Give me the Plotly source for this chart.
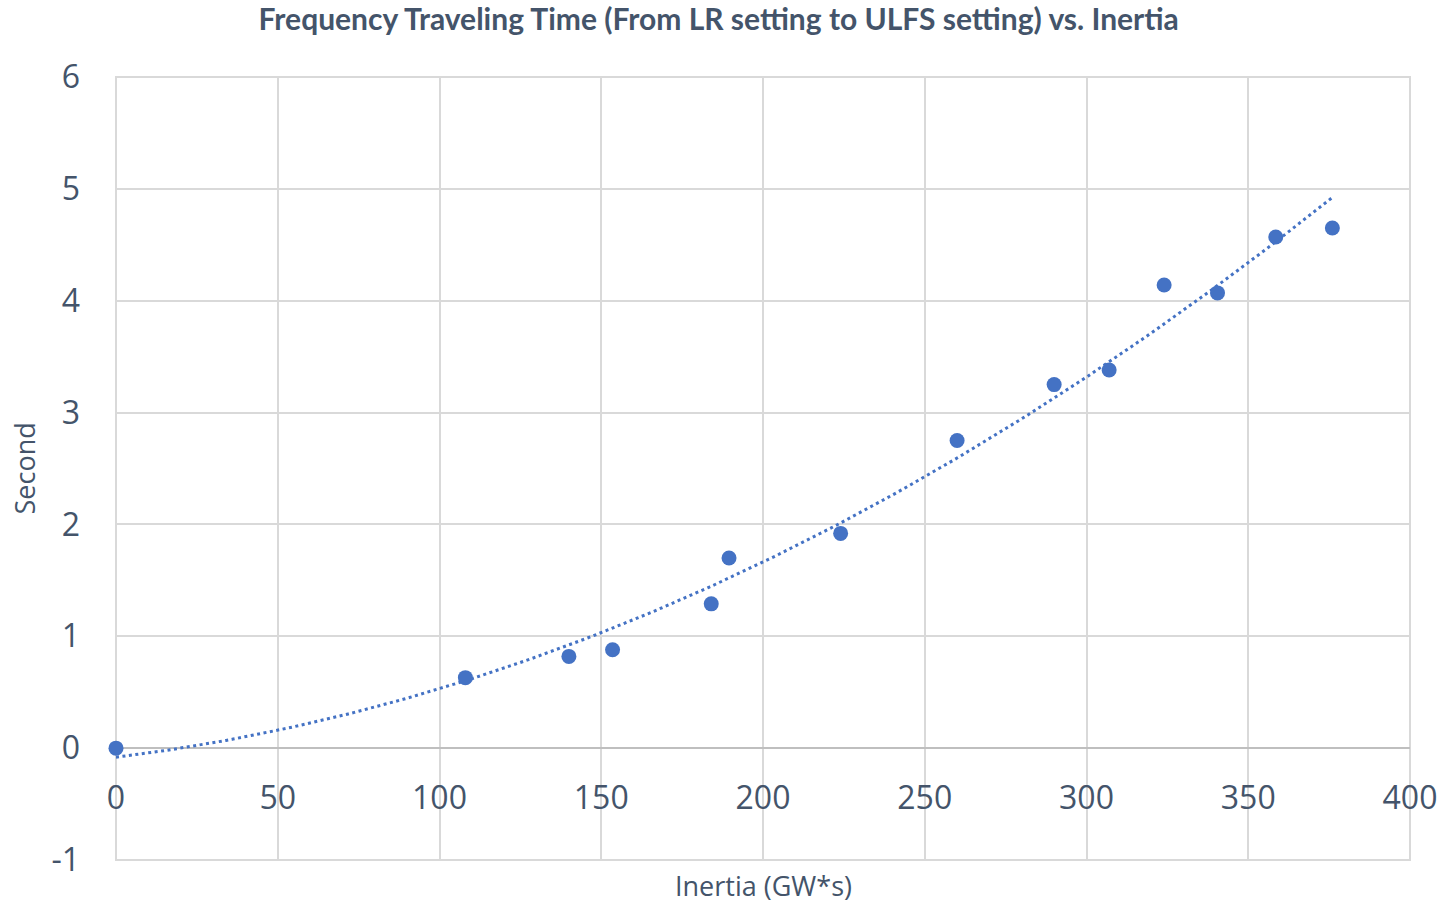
import numpy as np
import plotly.graph_objects as go

inertia = [0, 108, 140, 153.5, 184, 189.5, 224, 260, 290, 307, 324, 340.5, 358.5, 376]
seconds = [0.0, 0.63, 0.82, 0.88, 1.29, 1.70, 1.92, 2.75, 3.25, 3.38, 4.14, 4.07, 4.57, 4.65]

x_ticks = [0, 50, 100, 150, 200, 250, 300, 350, 400]
y_ticks = [-1, 0, 1, 2, 3, 4, 5, 6]
y_tick_text = ["-1", "0", "1", "2", "3", "4", "5", "6"]

title_text = "Frequency Traveling Time (From LR setting to ULFS setting) vs. Inertia"
x_title = "Inertia (GW*s)"
y_title = "Second"

# polynomial (order 2) trendline fitted to the data, as in the source chart
coef = np.polyfit(inertia, seconds, 2)
xt = np.linspace(min(inertia), max(inertia), 200)
yt = np.polyval(coef, xt)

blue = "#4472C4"
txt = "#44546A"
grid = "#D9D9D9"
font_main = "Open Sans"

fig = go.Figure()
fig.add_trace(go.Scatter(x=xt, y=yt, mode="lines",
                         line=dict(color=blue, width=3, dash="3px,3.5px"),
                         hoverinfo="skip", showlegend=False))
fig.add_trace(go.Scatter(x=inertia, y=seconds, mode="markers",
                         marker=dict(color=blue, size=15),
                         cliponaxis=False, showlegend=False))

pos0 = (0 - y_ticks[0]) / (y_ticks[-1] - y_ticks[0])

fig.update_layout(
    width=1449, height=903,
    margin=dict(l=116, r=39, t=77, b=43),
    paper_bgcolor="white", plot_bgcolor="white",
    title=dict(text="<b>" + title_text + "</b>", x=0.496, xanchor="center",
               y=1 - 19 / 903, yanchor="middle",
               font=dict(family="Lato", size=30, color=txt)),
    xaxis=dict(range=[0, 400], tickvals=x_ticks, showgrid=True, gridcolor=grid,
               gridwidth=2, zeroline=False, showline=False,
               anchor="free", position=pos0,
               tickfont=dict(family=font_main, size=32, color=txt),
               ticklabelstandoff=28, ticks=""),
    yaxis=dict(range=[-1, 6], tickvals=y_ticks, ticktext=y_tick_text,
               showgrid=True, gridcolor=grid,
               gridwidth=2, zeroline=True, zerolinecolor="#BFBFBF", zerolinewidth=2,
               showline=False,
               tickfont=dict(family=font_main, size=32, color=txt),
               ticklabelstandoff=35, ticks=""),
    annotations=[
        dict(text=x_title, xref="paper", yref="paper", x=0.5, y=-26 / 783,
             xanchor="center", yanchor="middle", showarrow=False,
             font=dict(family=font_main, size=27, color=txt)),
        dict(text=y_title, xref="paper", yref="paper", x=-92 / 1294, y=0.5,
             xanchor="center", yanchor="middle", showarrow=False, textangle=-90,
             font=dict(family=font_main, size=27, color=txt)),
    ],
)
# plot-area border (outer gridlines)
fig.add_shape(type="rect", xref="paper", yref="paper", x0=0, y0=0, x1=1, y1=1,
              line=dict(color=grid, width=2), layer="below")

fig.write_html("out.html")
